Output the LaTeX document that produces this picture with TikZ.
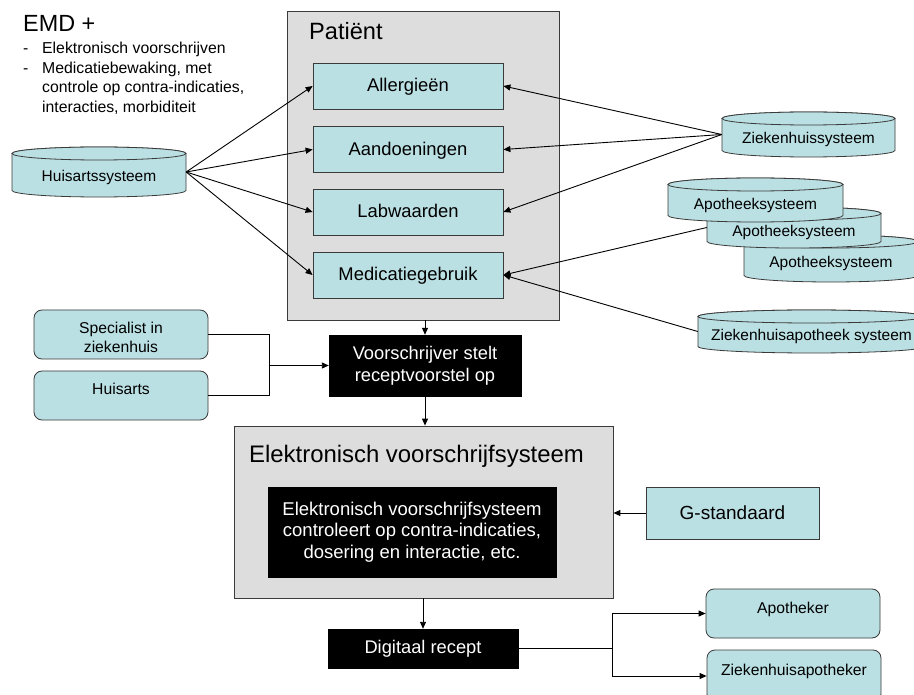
\documentclass[tikz,border=0pt]{standalone}
\usepackage{fontspec}
\setmainfont{Liberation Sans}
\usetikzlibrary{arrows.meta}

\definecolor{panelgray}{HTML}{DDDDDD}
\definecolor{aqua}{HTML}{BBE0E3}
\definecolor{edgegray}{HTML}{3A3A3A}

\newcommand{\fsz}[2]{\fontsize{#1}{#2}\selectfont}

% database drum: left x, right x, top y, bottom y (y measured downwards)
\newcommand{\dbdrum}[4]{%
  \filldraw[drum] (#1,{-(#3)-6.5}) -- (#1,{-(#4)+6.5})
     arc[start angle=180,end angle=360,x radius={((#2)-(#1))/2},y radius=6.5]
     -- (#2,{-(#3)-6.5})
     arc[start angle=0,end angle=180,x radius={((#2)-(#1))/2},y radius=6.5] -- cycle;
  \draw[drum] ({((#1)+(#2))/2},{-(#3)-6.5})
     ellipse[x radius={((#2)-(#1))/2},y radius=6.5];
}

\tikzset{
  drum/.style={draw=edgegray, fill=aqua, line width=0.8pt},
  drumtext/.style={inner sep=0pt, text height=19pt, text depth=0pt,
                   font=\fsz{15.5}{18}},
  panel/.style={draw=edgegray, fill=panelgray, line width=0.8pt, inner sep=0pt},
  databox/.style={draw=edgegray, fill=aqua, line width=0.8pt, inner sep=0pt,
                  text height=12pt, text depth=0pt,
                  minimum width=190pt, minimum height=46pt, font=\fsz{18.4}{22}},
  actor/.style={draw=edgegray, fill=aqua, line width=0.8pt, inner sep=0pt,
                rounded corners=8pt, minimum width=174pt, minimum height=49pt,
                font=\fsz{15.7}{19}, align=center},
  topline/.style={text height=7pt, text depth=8pt},
  blackbox/.style={draw=black, fill=black, text=white, inner sep=0pt,
                   font=\fsz{18.3}{22}, align=center},
  conn/.style={draw=black, line width=0.9pt},
  arr/.style={conn, -{Triangle[length=7pt,width=6pt]}},
}

\begin{document}
\begin{tikzpicture}[x=1pt,y=1pt]
\useasboundingbox (0,0) rectangle (914,-695);
\clip (0,0) rectangle (914,-695);
\fill[white] (0,0) rectangle (914,-695);

% ---- heading with the EMD feature list
\node[anchor=base west, inner sep=0pt, font=\fsz{23.4}{26}] (emd) at (23,-32) {EMD +};
\node[anchor=north west, inner sep=0pt, align=left, font=\fsz{15.8}{19.5}] (emdlist) at (23,-42)
  {\makebox[19pt][l]{-}Elektronisch voorschrijven\\
   \makebox[19pt][l]{-}Medicatiebewaking, met\\
   \hspace*{19pt}controle op contra-indicaties,\\
   \hspace*{19pt}interacties, morbiditeit};

% ---- patient record
\node[panel, minimum width=272pt, minimum height=309pt] (pat) at (423,-165.5) {};
\node[anchor=base west, inner sep=0pt, font=\fsz{23.6}{26}] (pattitle) at (309,-40) {Patiënt};
\node[databox] (all) at (408,-86)    {Allergieën};
\node[databox] (aan) at (408,-149.5) {Aandoeningen};
\node[databox] (lab) at (408,-212)   {Labwaarden};
\node[databox] (med) at (408,-275)   {Medicatiegebruik};

% ---- source systems
\dbdrum{12}{186}{147}{197}
\node[drumtext, minimum width=174pt] (hsys) at (99,-172) {Huisartssysteem};

\dbdrum{722}{895}{112}{157}
\node[drumtext, minimum width=173pt] (zsys) at (808.5,-134.5) {Ziekenhuissysteem};

\dbdrum{744}{918}{235}{282}
\node[drumtext, minimum width=174pt] (asys3) at (831,-258.5) {Apotheeksysteem};
\dbdrum{707}{881}{207}{248}
\node[drumtext, minimum width=174pt] (asys2) at (794,-227.5) {Apotheeksysteem};
\dbdrum{668}{843}{178}{222}
\node[drumtext, minimum width=175pt] (asys1) at (755.5,-200) {Apotheeksysteem};

\dbdrum{698}{925}{310}{353}
\node[drumtext, minimum width=227pt] (zasys) at (811.5,-331.5) {Ziekenhuisapotheek systeem};

% ---- data flows into the patient record
\draw[arr] (hsys.east) -- (all.west);
\draw[arr] (hsys.east) -- (aan.west);
\draw[arr] (hsys.east) -- (lab.west);
\draw[arr] (hsys.east) -- (med.west);
\draw[arr] (zsys.west) -- (all.east);
\draw[arr] (zsys.west) -- (aan.east);
\draw[arr] (zsys.west) -- (lab.east);
\draw[arr] (asys2.west) -- (med.east);
\draw[arr] (zasys.west) -- (med.east);

% ---- prescribers
\node[actor] (spec) at (121,-334.5) {};
\node[inner sep=0pt, font=\fsz{15.7}{19}, align=center] (spectext) at (121,-337.5)
  {Specialist in\\ziekenhuis};
\node[actor, topline] (ha) at (121,-395.5) {Huisarts};
\node[blackbox, minimum width=192pt, minimum height=61pt] (vs) at (425,-365.5)
  {Voorschrijver stelt\\receptvoorstel op};
\coordinate (join) at (269,-365.5);
\draw[conn] (spec.east) -| (join);
\draw[conn] (ha.east) -| (join);
\draw[arr] (join) -- (vs.west);
\draw[arr] (vs.north |- pat.south) -- (vs.north);

% ---- electronic prescribing system
\node[panel, minimum width=379pt, minimum height=172pt] (ev) at (423.5,-512) {};
\node[anchor=base west, inner sep=0pt, font=\fsz{23.9}{26}] (evtitle) at (249,-462)
  {Elektronisch voorschrijfsysteem};
\node[blackbox, minimum width=288pt, minimum height=90pt, font=\fsz{18.5}{21.5}] (evc) at (412,-532)
  {Elektronisch voorschrijfsysteem\\controleert op contra-indicaties,\\dosering en interactie, etc.};
\node[draw=edgegray, fill=aqua, line width=0.8pt, inner sep=0pt, minimum width=173pt,
      minimum height=52pt, font=\fsz{19}{22}] (gst) at (732.5,-513) {G-standaard};
\draw[arr] (vs.south) -- (vs.south |- ev.north);
\draw[arr] (gst.west) -- (gst.west -| ev.east);

% ---- digital prescription and its receivers
\node[blackbox, minimum width=190pt, minimum height=39pt] (dr) at (423,-648.5) {Digitaal recept};
\draw[arr] (ev.south -| dr.north) -- (dr.north);
\node[actor, topline] (apo) at (793,-613.5) {Apotheker};
\node[actor, topline, minimum height=52pt] (zapo) at (794,-676) {Ziekenhuisapotheker};
\coordinate (split) at (612,-648.5);
\draw[conn] (dr.east) -- (split);
\draw[arr] (split) |- (apo.west);
\draw[arr] (split) |- (zapo.west);
\end{tikzpicture}
\end{document}
